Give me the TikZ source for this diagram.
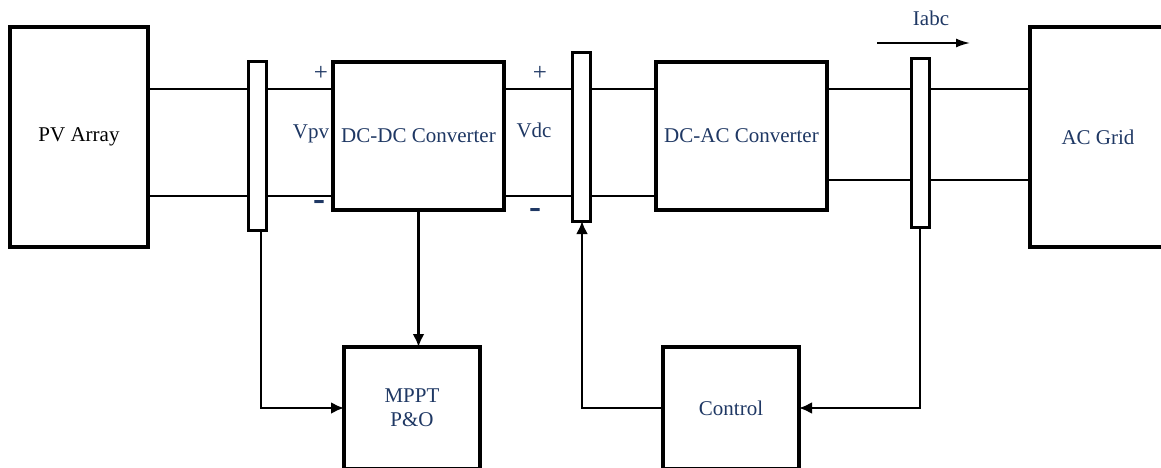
\documentclass[tikz,border=0pt]{standalone}
\usepackage{fontspec}
\setmainfont{Liberation Serif}
\usetikzlibrary{arrows.meta}
\definecolor{lblue}{HTML}{1F3864}

\begin{document}
\begin{tikzpicture}[x=1pt,y=-1pt,line width=1.4pt,
  blk/.style={draw,line width=3.2pt,outer sep=0pt,inner sep=0pt,anchor=north west,fill=white,text=lblue,font=\fontsize{21}{24}\selectfont},
  sens/.style={draw,line width=3pt,outer sep=0pt,inner sep=0pt,anchor=north west,fill=white,minimum width=18,minimum height=168},
  lbl/.style={anchor=center,inner sep=0pt,text=lblue,font=\fontsize{21}{24}\selectfont},
  plus/.style={anchor=center,inner sep=0pt,text=lblue,font=\fontsize{25}{25}\selectfont},
  minus/.style={anchor=center,inner sep=0pt,text=lblue,font=\fontsize{36}{36}\bfseries},
  fb/.style={line width=2.8pt,-{Latex[length=13pt,width=12pt]}}]
\path[use as bounding box] (0,0) rectangle (1161,468);
\node[blk,text=black,minimum width=138,minimum height=220] (pv) at (10,27) {PV Array};
\node[blk,minimum width=171,minimum height=148] (dcdc) at (333,62) {DC-DC Converter};
\node[blk,minimum width=171,minimum height=148] (dcac) at (656,62) {DC-AC Converter};
\node[blk,minimum width=136,minimum height=220] (grid) at (1030,27) {AC Grid};
\node[blk,minimum width=136,minimum height=122,align=center] (mppt) at (344,347) {MPPT\\P\&O};
\node[blk,minimum width=136,minimum height=122] (ctrl) at (663,347) {Control};
\coordinate (up) at (0,89);
\coordinate (dn) at (0,196);
\coordinate (ac) at (0,180);
\draw (pv.east |- up) -- (dcdc.west |- up);
\draw (pv.east |- dn) -- (dcdc.west |- dn);
\draw (dcdc.east |- up) -- (dcac.west |- up);
\draw (dcdc.east |- dn) -- (dcac.west |- dn);
\draw[line width=1.8pt] (dcac.east |- up) -- (grid.west |- up);
\draw[line width=1.8pt] (dcac.east |- ac) -- (grid.west |- ac);
\node[sens] (s1) at (248,62) {};
\node[sens] (s2) at (572,53) {};
\node[sens] (s3) at (911,59) {};
\node[lbl] (vpv) at (311,134) {Vpv};
\node[lbl] (vdc) at (534,130) {Vdc};
\node[plus] (p1) at (321,73) {+};
\node[plus] (p2) at (540,73) {+};
\node[minus] (m1) at (319,205) {-};
\node[minus] (m2) at (535,213) {-};
\node[lbl] (iabc) at (931,18) {Iabc};
\coordinate (ia) at (877,43);
\coordinate (ib) at (970,43);
\draw[line width=1.8pt,-{Latex[length=14pt,width=9pt]}] (ia) -- (ib);
\draw[fb] ([xshift=4pt]s1.south) |- (mppt.west);
\draw[fb] (dcdc.south) -- (dcdc.south |- mppt.north);
\draw[fb] ([xshift=1pt]ctrl.west) -| ([xshift=1pt]s2.south);
\draw[fb] (s3.south) |- (ctrl.east);
\end{tikzpicture}
\end{document}
